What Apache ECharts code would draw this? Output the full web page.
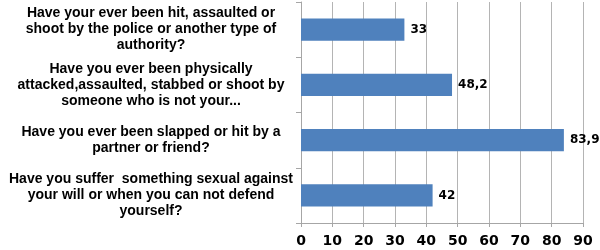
<!DOCTYPE html>
<html>
<head>
<meta charset="utf-8">
<script src="https://cdn.jsdelivr.net/npm/echarts@6/dist/echarts.min.js"></script>
<style>
  html, body { margin: 0; padding: 0; background: #ffffff; }
  #chart { width: 600px; height: 250px; }
</style>
</head>
<body>
<div id="chart"></div>
<script>
// questions, top to bottom
var questions = [
  'Have your ever been hit, assaulted or\nshoot by the police or another type of\nauthority?',
  'Have you ever been physically\nattacked,assaulted, stabbed or shoot by\nsomeone who is not your...',
  'Have you ever been slapped or hit by a\npartner or friend?',
  'Have you suffer  something sexual against\nyour will or when you can not defend\nyourself?'
]
var percents = [33, 48.2, 83.9, 42]
var percentLabels = ['33', '48,2', '83,9', '42']

var myChart = echarts.init(document.getElementById('chart'))

var option = {
  animation: false,
  grid: {
    left: 301,
    right: 17,
    top: 2,
    bottom: 27
  },
  xAxis: {
    type: 'value',
    min: 0,
    max: 90,
    interval: 10,
    axisLine: { show: true, lineStyle: { color: '#a6a6a6' } },
    axisTick: { show: true, length: 4, lineStyle: { color: '#a6a6a6' } },
    splitLine: { show: true, lineStyle: { color: '#b4b4b4' } },
    axisLabel: {
      fontFamily: 'DejaVu Sans',
      fontWeight: 'bold',
      fontSize: 14,
      color: '#000',
      margin: 11
    }
  },
  yAxis: {
    type: 'category',
    inverse: true,
    data: questions,
    axisLine: { show: true, lineStyle: { color: '#a6a6a6' } },
    axisTick: { show: true, length: 5, lineStyle: { color: '#a6a6a6' } },
    axisLabel: {
      fontFamily: 'Liberation Sans',
      fontWeight: 'bold',
      fontSize: 14,
      lineHeight: 16,
      color: '#000',
      align: 'center',
      margin: 150
    }
  },
  series: [{
    type: 'bar',
    data: percents,
    barWidth: '40%',
    itemStyle: { color: '#4f81bd' },
    label: {
      show: true,
      position: 'right',
      distance: 6,
      fontFamily: 'DejaVu Sans',
      fontWeight: 'bold',
      fontSize: 12,
      color: '#000',
      formatter: function(p) {
        return percentLabels[p.dataIndex]
      }
    }
  }]
}

myChart.setOption(option)
</script>
</body>
</html>
